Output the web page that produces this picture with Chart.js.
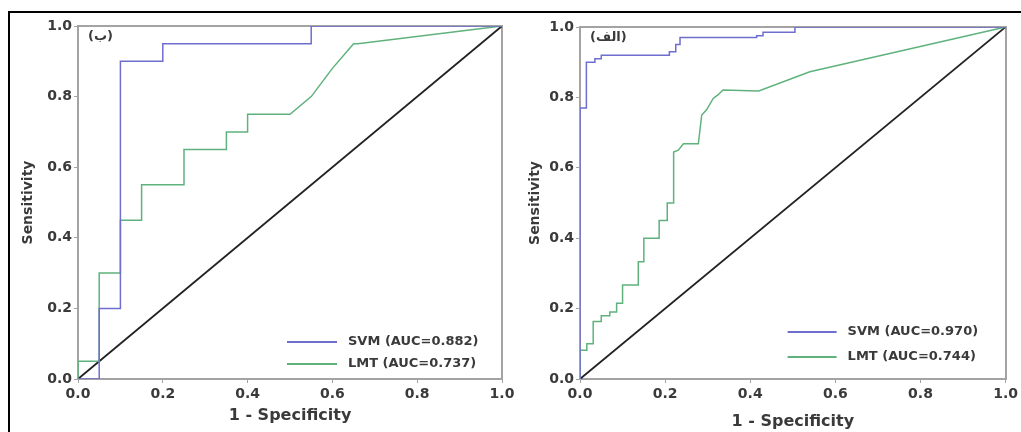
<!DOCTYPE html>
<html lang="en">
<head>
  <meta charset="UTF-8">
  <title>ROC curves SVM / LMT</title>
  <script src="https://cdn.jsdelivr.net/npm/chart.js"></script>
  <style>
    html, body { margin: 0; padding: 0; background: #fff; }
    body { width: 1021px; height: 432px; position: relative; overflow: hidden; }
    #frame { position: absolute; left: 8px; top: 11px; width: 1030px; height: 440px;
             border-top: 2px solid #000; border-left: 2px solid #000; }
    canvas { position: absolute; top: 0; }
    #rocB { left: 0; }
    #rocA { left: 520px; }
  </style>
</head>
<body>
  <div id="frame"></div>
  <canvas id="rocB" width="520" height="432"></canvas>
  <canvas id="rocA" width="501" height="432"></canvas>

  <script>
    // axis ticks
    const tickValues = [0, 0.2, 0.4, 0.6, 0.8, 1.0];
    const xTitle = '1 - Specificity';
    const yTitle = 'Sensitivity';

    // panel (ب) - left
    const panelB = '(ب)';
    const svmB_label = 'SVM (AUC=0.882)';
    const svmB_fpr = [0, 0.05, 0.05, 0.10, 0.10, 0.20, 0.20, 0.55, 0.55, 1.0];
    const svmB_tpr = [0, 0, 0.20, 0.20, 0.90, 0.90, 0.95, 0.95, 1.0, 1.0];
    const lmtB_label = 'LMT (AUC=0.737)';
    const lmtB_fpr = [0, 0, 0.05, 0.05, 0.10, 0.10, 0.15, 0.15, 0.25, 0.25, 0.35, 0.35, 0.40, 0.40, 0.50, 0.55, 0.60, 0.65, 0.66, 1.0];
    const lmtB_tpr = [0, 0.05, 0.05, 0.30, 0.30, 0.45, 0.45, 0.55, 0.55, 0.65, 0.65, 0.70, 0.70, 0.75, 0.75, 0.80, 0.88, 0.95, 0.95, 1.0];

    // panel (الف) - right
    const panelA = '(الف)';
    const svmA_label = 'SVM (AUC=0.970)';
    const svmA_fpr = [0, 0, 0.015, 0.015, 0.035, 0.035, 0.05, 0.05, 0.21, 0.21, 0.225, 0.225, 0.235, 0.235, 0.415, 0.415, 0.43, 0.43, 0.505, 0.505, 1.0];
    const svmA_tpr = [0, 0.77, 0.77, 0.90, 0.90, 0.91, 0.91, 0.92, 0.92, 0.93, 0.93, 0.95, 0.95, 0.97, 0.97, 0.975, 0.975, 0.985, 0.985, 1.0, 1.0];
    const lmtA_label = 'LMT (AUC=0.744)';
    const lmtA_fpr = [0, 0, 0.016, 0.016, 0.031, 0.031, 0.05, 0.05, 0.07, 0.07, 0.086, 0.086, 0.10, 0.10, 0.137, 0.137, 0.15, 0.15, 0.186, 0.186, 0.205, 0.205, 0.22, 0.22, 0.231, 0.243, 0.278, 0.286, 0.297, 0.313, 0.324, 0.336, 0.42, 0.54, 1.0];
    const lmtA_tpr = [0, 0.082, 0.082, 0.10, 0.10, 0.163, 0.163, 0.18, 0.18, 0.19, 0.19, 0.215, 0.215, 0.267, 0.267, 0.333, 0.333, 0.40, 0.40, 0.45, 0.45, 0.50, 0.50, 0.645, 0.65, 0.668, 0.668, 0.75, 0.764, 0.797, 0.807, 0.821, 0.818, 0.873, 1.0];

    // reference line
    const diag_fpr = [0, 1];
    const diag_tpr = [0, 1];

    const SVM_COLOR = '#6e6ecf';
    const LMT_COLOR = '#5fb27c';
    const AXIS_COLOR = '#a3a3a3';
    const TEXT_COLOR = '#3a3a3a';
    const FONT = 'DejaVu Sans';

    function toPoints(xs, ys) {
      return xs.map((x, i) => ({ x: x, y: ys[i] }));
    }

    // legend + panel tag drawn inside the plot area
    const innerLegend = {
      id: 'innerLegend',
      afterDatasetsDraw(chart, args, opts) {
        const { ctx, chartArea: a } = chart;
        ctx.save();
        ctx.font = 'bold 13px "' + FONT + '"';
        ctx.textBaseline = 'middle';
        let row = 0;
        chart.data.datasets.forEach((ds) => {
          if (!ds.label) return;
          const y = a.bottom - opts.rows[row];
          ctx.strokeStyle = ds.borderColor;
          ctx.lineWidth = 2;
          ctx.beginPath();
          ctx.moveTo(a.right - opts.lineFrom, y);
          ctx.lineTo(a.right - opts.lineTo, y);
          ctx.stroke();
          ctx.fillStyle = TEXT_COLOR;
          ctx.textAlign = 'left';
          ctx.fillText(ds.label, a.right - opts.textAt, y);
          row++;
        });
        ctx.font = 'bold 13px "' + FONT + '"';
        ctx.fillStyle = TEXT_COLOR;
        ctx.fillText(opts.tag, a.left + 10, a.top + 11);
        ctx.restore();
      }
    };

    function makeChart(id, tag, svmLabel, svmPts, lmtLabel, lmtPts, lay) {
      const ctx = document.getElementById(id).getContext('2d');
      return new Chart(ctx, {
        type: 'scatter',
        data: {
          datasets: [
            { label: svmLabel, data: svmPts, borderColor: SVM_COLOR, borderWidth: 1.5 },
            { label: lmtLabel, data: lmtPts, borderColor: LMT_COLOR, borderWidth: 1.5 },
            { label: '', data: toPoints(diag_fpr, diag_tpr), borderColor: '#222', borderWidth: 1.8 }
          ]
        },
        options: {
          responsive: false,
          animation: false,
          devicePixelRatio: 1,
          showLine: true,
          elements: { point: { radius: 0, hoverRadius: 0 }, line: { tension: 0 } },
          layout: { padding: { left: lay.padLeft, right: lay.padRight, top: lay.padTop, bottom: 0 } },
          plugins: {
            legend: { display: false },
            tooltip: { enabled: false },
            innerLegend: { tag: tag, rows: lay.rows, lineFrom: lay.lineFrom, lineTo: lay.lineTo, textAt: lay.textAt }
          },
          scales: {
            x: {
              type: 'linear', position: 'bottom', min: 0, max: 1,
              afterBuildTicks: (s) => { s.ticks = tickValues.map(v => ({ value: v })); },
              afterFit: (s) => { s.height = 53; },
              ticks: { color: TEXT_COLOR, padding: 3, maxRotation: 0,
                       font: { family: FONT, size: 14, weight: 'bold' },
                       callback: (v) => Number(v).toFixed(1) },
              grid: { drawOnChartArea: false, color: AXIS_COLOR, tickLength: 4, lineWidth: 1 },
              border: { color: AXIS_COLOR, width: 2 },
              title: { display: true, text: xTitle, color: TEXT_COLOR,
                       font: { family: FONT, size: 16, weight: 'bold' },
                       padding: { top: 0, bottom: lay.xTitleBottom } }
            },
            y: {
              type: 'linear', position: 'left', min: 0, max: 1,
              afterBuildTicks: (s) => { s.ticks = tickValues.map(v => ({ value: v })); },
              afterFit: (s) => { s.width = lay.yWidth; },
              ticks: { color: TEXT_COLOR, padding: 2,
                       font: { family: FONT, size: 14, weight: 'bold' },
                       callback: (v) => Number(v).toFixed(1) },
              grid: { drawOnChartArea: false, color: AXIS_COLOR, tickLength: 4, lineWidth: 1 },
              border: { color: AXIS_COLOR, width: 2 },
              title: { display: true, text: yTitle, color: TEXT_COLOR,
                       font: { family: FONT, size: 14, weight: 'bold' },
                       padding: { top: 2, bottom: 0 } }
            },
            xTop: {
              type: 'linear', position: 'top', min: 0, max: 1,
              afterFit: (s) => { s.height = 0; },
              ticks: { display: false },
              grid: { display: false, drawTicks: false },
              border: { display: true, color: AXIS_COLOR, width: 2 }
            },
            yRight: {
              type: 'linear', position: 'right', min: 0, max: 1,
              afterFit: (s) => { s.width = 0; },
              ticks: { display: false },
              grid: { display: false, drawTicks: false },
              border: { display: true, color: AXIS_COLOR, width: 2 }
            }
          }
        },
        plugins: [innerLegend]
      });
    }

    makeChart('rocB', panelB,
      svmB_label, toPoints(svmB_fpr, svmB_tpr),
      lmtB_label, toPoints(lmtB_fpr, lmtB_tpr),
      { padLeft: 18, yWidth: 60, padRight: 18, padTop: 26, xTitleBottom: 7,
        rows: [37, 15], lineFrom: 215, lineTo: 165, textAt: 154 });

    makeChart('rocA', panelA,
      svmA_label, toPoints(svmA_fpr, svmA_tpr),
      lmtA_label, toPoints(lmtA_fpr, lmtA_tpr),
      { padLeft: 5, yWidth: 55, padRight: 15, padTop: 27, xTitleBottom: 1,
        rows: [47, 22], lineFrom: 218, lineTo: 169, textAt: 158 });
  </script>
</body>
</html>
